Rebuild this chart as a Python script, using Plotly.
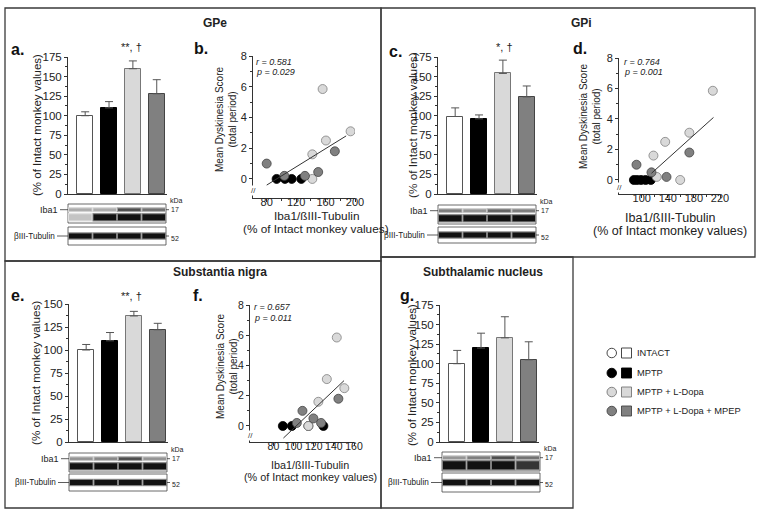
import numpy as np
import plotly.graph_objects as go

W, H = 768, 515
FONT = "Liberation Sans, Arial, sans-serif"
AXC = "#333333"

# ---------------- data ----------------
groups = ["INTACT", "MPTP", "MPTP + L-Dopa", "MPTP + L-Dopa + MPEP"]
bar_fill = ["#ffffff", "#000000", "#d9d9d9", "#808080"]
bar_line = ["#555555", "#000000", "#777777", "#444444"]

gpe_mean = [100, 110, 160, 128]
gpe_err = [5, 8, 10, 18]
gpi_mean = [99, 96, 154, 124]
gpi_err = [11, 5, 17, 14]
sn_mean = [100, 110, 137, 122]
sn_err = [6, 9, 5, 7]
stn_mean = [100, 120, 133, 105]
stn_err = [17, 19, 27, 23]

# scatter b (GPe)
b_mptp_x = [93.5, 114, 127, 104.8]
b_mptp_y = [0, 0, 0, 0]
b_ldopa_x = [142, 142, 156, 160.5, 194]
b_ldopa_y = [0, 1.6, 5.85, 2.5, 3.1]
b_mpep_x = [80, 104, 132, 150, 172.6]
b_mpep_y = [1.0, 0.2, 0.2, 0.45, 1.8]
b_fit_x = [80, 188]
b_fit_y = [-0.4, 2.8]

# scatter d (GPi)
d_mptp_x = [88, 93, 99, 106, 114]
d_mptp_y = [0, 0, 0, 0, 0]
d_ldopa_x = [118, 123, 136, 159, 173, 209]
d_ldopa_y = [1.6, 0.2, 2.5, 0, 3.1, 5.85]
d_mpep_x = [92, 115, 138, 173]
d_mpep_y = [1.0, 0.5, 0.2, 1.8]
d_fit_x = [115, 210]
d_fit_y = [0.44, 4.1]

# scatter f (SN)
f_mptp_x = [89.3, 98.3, 114.7, 129.6]
f_mptp_y = [0, 0, 0, 0]
f_ldopa_x = [114.7, 124.6, 133, 142.9, 150.4]
f_ldopa_y = [0, 1.6, 3.1, 5.85, 2.5]
f_mpep_x = [103.2, 108.8, 119.7, 127.3, 144.5]
f_mpep_y = [0.2, 1.0, 0.5, 0.2, 1.8]
f_fit_x = [89.9, 150.1]
f_fit_y = [-0.8, 3.0]

stats_b = ["r = 0.581", "p = 0.029"]
stats_d = ["r = 0.764", "p = 0.001"]
stats_f = ["r = 0.657", "p = 0.011"]

# blot band intensities (lane 1..4)
blot_a = dict(top=[0.35, 0.35, 0.75, 0.6], bot=[0.25, 1, 1, 1])
blot_c = dict(top=[0.55, 0.45, 0.65, 0.55], bot=[1, 1, 1, 1])
blot_e = dict(top=[0.45, 0.5, 0.75, 0.45], bot=[1, 1, 1, 1])
blot_g = dict(top=[0.45, 0.55, 0.75, 0.6], bot=[1, 1, 1, 0.85])


# ---------------- helpers ----------------
def px(x):
    return x / W


def py(y):
    return 1 - y / H


fig = go.Figure()
shapes = []
ann = []


def text(x, y, s, size=11, bold=False, xanchor="center", yanchor="middle", angle=0, color="#222"):
    if bold:
        s = "<b>" + s + "</b>"
    ann.append(dict(x=px(x), y=py(y), xref="paper", yref="paper", text=s, showarrow=False,
                    font=dict(family=FONT, size=size, color=color), xanchor=xanchor,
                    yanchor=yanchor, textangle=angle))


def axis_style(**kw):
    d = dict(showline=True, linecolor=AXC, linewidth=1, ticks="outside", ticklen=3,
             tickcolor=AXC, tickwidth=1, showgrid=False, zeroline=False, automargin=False,
             tickfont=dict(family=FONT, size=11, color="#222"))
    d.update(kw)
    return d


layout_axes = {}


def bar_panel(i, geom, means, errs, yrange, ytick_max):
    xn = "x" if i == 1 else f"x{i}"
    yn = "y" if i == 1 else f"y{i}"
    fig.add_trace(go.Bar(x=[0, 1, 2, 3], y=means, width=0.66, xaxis=xn, yaxis=yn,
                         marker=dict(color=bar_fill, line=dict(color=bar_line, width=1)),
                         error_y=dict(type="data", symmetric=False, array=errs,
                                      arrayminus=[0, 0, 0, 0], color="#555", thickness=1, width=4),
                         showlegend=False, hoverinfo="skip"))
    L, R, T, B = geom
    layout_axes["xaxis" if i == 1 else f"xaxis{i}"] = axis_style(
        domain=[px(L), px(R)], range=[-0.72, 3.43], anchor=yn, showticklabels=False, ticks="")
    layout_axes["yaxis" if i == 1 else f"yaxis{i}"] = axis_style(
        domain=[py(B), py(T)], range=yrange, anchor=xn,
        tickvals=list(range(0, ytick_max + 1, 25)), tickfont=dict(family=FONT, size=11.5, color="#222"),
        minor=dict(ticks="outside", ticklen=2, tickcolor=AXC, dtick=12.5))


def scatter_panel(i, geom, sets, fit, xr, yr, xt, xminor, tsize=11):
    xn = f"x{i}"
    yn = f"y{i}"
    styles = [("#000000", "#000000"), ("#d9d9d9", "#808080"), ("#808080", "#444444")]
    for (xs, ys), (fc, lc) in zip(sets, styles):
        fig.add_trace(go.Scatter(x=xs, y=ys, mode="markers", xaxis=xn, yaxis=yn,
                                 marker=dict(size=9, color=fc, line=dict(color=lc, width=0.8)),
                                 showlegend=False, hoverinfo="skip"))
    fig.add_trace(go.Scatter(x=fit[0], y=fit[1], mode="lines", xaxis=xn, yaxis=yn,
                             line=dict(color="#333", width=1), showlegend=False, hoverinfo="skip"))
    L, R, T, B = geom
    layout_axes[f"xaxis{i}"] = axis_style(domain=[px(L), px(R)], range=xr, anchor=yn, tickvals=xt,
                                          tickfont=dict(family=FONT, size=tsize, color="#222"),
                                          ticklabelstandoff=-9, tickangle=0,
                                          minor=dict(ticks="outside", ticklen=2, tickcolor=AXC,
                                                     tickvals=xminor))
    layout_axes[f"yaxis{i}"] = axis_style(domain=[py(B), py(T)], range=yr, anchor=xn,
                                          tickvals=[0, 2, 4, 6, 8],
                                          tickfont=dict(family=FONT, size=tsize, color="#222"),
                                          minor=dict(ticks="outside", ticklen=2, tickcolor=AXC,
                                                     tickvals=[1, 3, 5, 7]))
    # axis break
    ann.append(dict(x=px(L), y=py(B - 7), xref="paper", yref="paper", text="//", showarrow=False,
                    font=dict(family=FONT, size=8, color="#333"), bgcolor="white",
                    borderpad=0, xanchor="center", yanchor="middle"))


def gray(v):
    g = int(round(255 * (1 - 0.93 * v)))
    return f"rgb({g},{g},{g})"


def soft(v):
    g = int(round(255 * (1 - 0.5 * v)))
    return f"rgb({g},{g},{g})"


def blot(L, ib, tb, inten, bot_h=6):
    wbox = 98
    lane = wbox / 4
    it, ibt = ib
    tt, tbt = tb
    for (y0, y1) in (ib, tb):
        shapes.append(dict(type="rect", xref="paper", yref="paper", x0=px(L), x1=px(L + wbox),
                           y0=py(y1), y1=py(y0), line=dict(color="#444", width=0.8), fillcolor="white"))
    hgt = ibt - it
    ytop = it + 0.3 * hgt
    ybot = it + 0.7 * hgt
    ytub = (tt + tbt) / 2
    for k in range(4):
        x0 = L + k * lane + 1
        x1 = L + (k + 1) * lane - 1
        for yc, h, v in ((ytop, 2.5, inten["top"][k]), (ybot, bot_h, inten["bot"][k]), (ytub, 5, 1.0)):
            shapes.append(dict(type="rect", xref="paper", yref="paper", x0=px(x0 - 1), x1=px(x1 + 1),
                               y0=py(yc + h / 2 + 1.2), y1=py(yc - h / 2 - 1.2), line=dict(width=0),
                               fillcolor=soft(v), layer="above"))
            shapes.append(dict(type="rect", xref="paper", yref="paper", x0=px(x0), x1=px(x1),
                               y0=py(yc + h / 2), y1=py(yc - h / 2), line=dict(width=0),
                               fillcolor=gray(v), layer="above"))
    # labels
    text(L - 8, ytop, "Iba1", size=9, xanchor="right")
    text(L - 11, ytub, "βIII-Tubulin", size=8.2, xanchor="right")
    for yc, off in ((ytop, 8), (ytub, 11)):
        shapes.append(dict(type="line", xref="paper", yref="paper", x0=px(L - off), x1=px(L),
                           y0=py(yc), y1=py(yc), line=dict(color="#333", width=0.8)))
        shapes.append(dict(type="line", xref="paper", yref="paper", x0=px(L + wbox), x1=px(L + wbox + 3),
                           y0=py(yc), y1=py(yc), line=dict(color="#333", width=0.8)))
    text(L + wbox + 3, ytop, "17", size=7, xanchor="left")
    text(L + wbox + 3, ytub + 2, "52", size=7, xanchor="left")
    text(L + wbox + 2, it - 4, "kDa", size=7, xanchor="left")


# ---------------- panels ----------------
bar_panel(1, (68, 167, 57, 194), gpe_mean, gpe_err, [0, 175], 175)
bar_panel(3, (438, 537, 57, 194), gpi_mean, gpi_err, [0, 175], 175)
bar_panel(5, (69, 168, 304, 442), sn_mean, sn_err, [0, 150], 150)
bar_panel(7, (440, 539, 305, 442), stn_mean, stn_err, [0, 175], 175)

scatter_panel(2, (253, 355, 56, 198),
              [(b_mptp_x, b_mptp_y), (b_ldopa_x, b_ldopa_y), (b_mpep_x, b_mpep_y)],
              (b_fit_x, b_fit_y), [61.4, 200], [-1.24, 8], [80, 120, 160, 200], [100, 140, 180])
scatter_panel(4, (619, 720, 58, 194),
              [(d_mptp_x, d_mptp_y), (d_ldopa_x, d_ldopa_y), (d_mpep_x, d_mpep_y)],
              (d_fit_x, d_fit_y), [65.2, 220], [-0.92, 8], [100, 140, 180, 220], [120, 160, 200])
scatter_panel(6, (250, 354, 305, 442),
              [(f_mptp_x, f_mptp_y), (f_ldopa_x, f_ldopa_y), (f_mpep_x, f_mpep_y)],
              (f_fit_x, f_fit_y), [56.7, 160], [-1.06, 8], [80, 100, 120, 140, 160], [], tsize=10.5)

# blots
blot(68, (204, 223), (227, 245), blot_a)
blot(438, (205, 224), (227, 243), blot_c)
blot(69, (453, 472), (474, 491), blot_e)
blot(442, (452, 471), (473, 492), blot_g, bot_h=8)

# panel letters
for (x, y, s) in [(17, 50, "a."), (201, 49, "b."), (395, 51, "c."), (580, 49, "d."),
                  (17, 295, "e."), (198, 296, "f."), (407, 295, "g.")]:
    text(x, y, s, size=16, bold=True, color="#111")

# significance
text(131, 47, "**, †", size=11)
text(504, 47, "*, †", size=11)
text(131, 296, "**, †", size=11)

# bar y-axis titles
ytitle = "(% of Intact monkey values)"
text(37, 125, ytitle, size=11.5, angle=-90)
text(413, 125, ytitle, size=11.8, angle=-90)
text(35, 373, ytitle, size=11.7, angle=-90)
text(412, 375, ytitle, size=11.5, angle=-90)

# scatter titles
for (xc, yc, xt_c, xt_y, fs) in [(226, 120, 316, 216, 11.8), (590, 117, 670, 218, 12.5),
                                 (227, 367, 310, 465, 10.8)]:
    text(xc, yc, "Mean Dyskinesia Score<br>(total period)", size=10, angle=-90)
    text(xt_c, xt_y, "Iba1/ßIII-Tubulin", size=fs)
    text(xt_c, xt_y + (12.5 if fs > 11 else 11.5), "(% of Intact monkey values)", size=fs)

for (x, y, st) in [(254, 62, stats_b), (622, 62, stats_d), (252, 307, stats_f)]:
    text(x, y, "<i>" + st[0] + "</i>", size=9, xanchor="left")
    text(x, y + 10.5, "<i>" + st[1] + "</i>", size=9, xanchor="left")

# region titles
text(215, 23, "GPe", size=12, bold=True)
text(581, 23, "GPi", size=12, bold=True)
text(220, 272, "Substantia nigra", size=12, bold=True)
text(483, 272, "Subthalamic nucleus", size=12, bold=True)

# frames
for (x0, y0, x1, y1) in [(5, 8, 381, 261), (381, 8, 755, 257), (5, 261, 381, 508), (381, 257, 573, 508)]:
    shapes.append(dict(type="rect", xref="paper", yref="paper", x0=px(x0), x1=px(x1),
                       y0=py(y1), y1=py(y0), line=dict(color="#3a3a3a", width=1.3), layer="below"))

# legend
leg_y = [353, 373, 392, 411]
for k, g in enumerate(groups):
    yc = leg_y[k]
    shapes.append(dict(type="circle", xref="paper", yref="paper", x0=px(607), x1=px(616.5),
                       y0=py(yc + 4.75), y1=py(yc - 4.75), fillcolor=bar_fill[k],
                       line=dict(color=bar_line[k] if k != 0 else "#333", width=0.9)))
    shapes.append(dict(type="rect", xref="paper", yref="paper", x0=px(621.5), x1=px(631.5),
                       y0=py(yc + 5), y1=py(yc - 5), fillcolor=bar_fill[k],
                       line=dict(color=bar_line[k] if k != 0 else "#333", width=0.9)))
    text(635, yc, g, size=9.3, xanchor="left")

fig.update_layout(template="none", width=W, height=H, margin=dict(l=0, r=0, t=0, b=0, pad=0),
                  paper_bgcolor="white", plot_bgcolor="rgba(0,0,0,0)",
                  shapes=shapes, annotations=ann, bargap=0, **layout_axes)
fig.write_html("out.html", config={"displayModeBar": False},
               post_script="document.body.style.margin='0px';")
